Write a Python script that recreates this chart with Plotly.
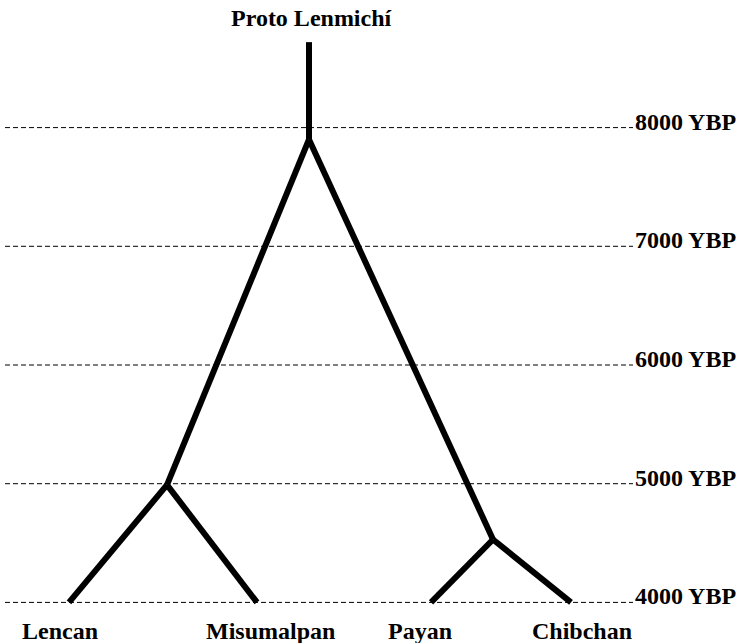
import plotly.graph_objects as go

# tree data: ages in years before present, x = horizontal slot of each node
ages_lines = [8000, 7000, 6000, 5000, 4000]
age_labels = ["8000 YBP", "7000 YBP", "6000 YBP", "5000 YBP", "4000 YBP"]

root_name = "Proto Lenmichí"
root_x = 309
root_top = 8720
root_age = 7900

inner_x = [167, 493]          # Lencan-Misumalpan, Payan-Chibchan
inner_age = [4990, 4530]

leaf_names = ["Lencan", "Misumalpan", "Payan", "Chibchan"]
leaf_x = [69, 257, 431, 571]
leaf_age = [4000, 4000, 4000, 4000]
leaf_parent = [0, 0, 1, 1]

label_font = dict(family="Liberation Serif, Times New Roman, serif", size=24, color="black")

fig = go.Figure()

# dashed time lines
for a in ages_lines:
    fig.add_trace(go.Scatter(x=[5, 633], y=[a, a], mode="lines",
                             line=dict(color="black", width=1, dash="5px,3px"),
                             hoverinfo="skip", showlegend=False))

# branches
xs, ys = [root_x, root_x, None], [root_top, root_age, None]
for i in range(len(inner_x)):
    xs += [root_x, inner_x[i], None]
    ys += [root_age, inner_age[i], None]
for i in range(len(leaf_x)):
    p = leaf_parent[i]
    xs += [inner_x[p], leaf_x[i], None]
    ys += [inner_age[p], leaf_age[i], None]
fig.add_trace(go.Scatter(x=xs, y=ys, mode="lines",
                         line=dict(color="black", width=6),
                         hoverinfo="skip", showlegend=False))

# labels
for a, t in zip(ages_lines, age_labels):
    fig.add_annotation(x=633, y=a, text="<b>%s</b>" % t, showarrow=False,
                       xanchor="left", yanchor="middle", yshift=6, font=label_font)

shifts = [-9, 13, -11, 11]
for name, x, s in zip(leaf_names, leaf_x, shifts):
    fig.add_annotation(x=x, y=3760, text="<b>%s</b>" % name, showarrow=False,
                       xanchor="center", yanchor="middle", xshift=s, font=label_font)

fig.add_annotation(x=root_x, y=8920, text="<b>%s</b>" % root_name, showarrow=False,
                   xanchor="center", yanchor="middle", xshift=2, font=label_font)

fig.update_layout(width=744, height=643, margin=dict(l=0, r=0, t=0, b=0),
                  paper_bgcolor="white", plot_bgcolor="white")
fig.update_xaxes(range=[0, 744], visible=False, fixedrange=True)
fig.update_yaxes(range=[3658, 9075], visible=False, fixedrange=True)

fig.write_html("out.html", config={"displayModeBar": False},
               post_script="document.body.style.margin='0';")
